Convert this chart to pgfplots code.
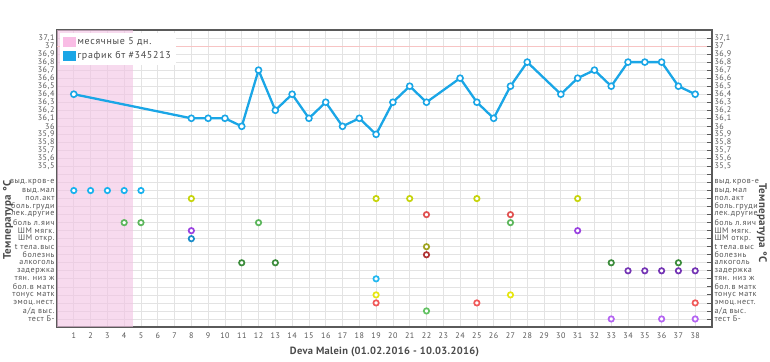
\documentclass[border=0pt]{standalone}
\usepackage{pgfplots}
\pgfplotsset{compat=1.18}
\usepackage{fontspec}
\setmainfont{PT Sans}
\newfontfamily\lsfont[LetterSpace=7]{PT Sans}
\newfontfamily\lsmfont[LetterSpace=3]{PT Sans}
\definecolor{gridc}{HTML}{E3E3E3}
\definecolor{framec}{HTML}{5A5A5A}
\definecolor{labc}{HTML}{555555}
\definecolor{titc}{HTML}{4A4A4A}
\definecolor{bandc}{HTML}{F2C4E4}
\definecolor{legpink}{HTML}{F9BDE5}
\definecolor{bluec}{HTML}{1AA6E6}
\definecolor{redline}{HTML}{F7C4C4}
\definecolor{cVydMal}{HTML}{1AB2EE}
\definecolor{cPol}{HTML}{C6D40C}
\definecolor{cBolYa}{HTML}{5CB65C}
\definecolor{cShmM}{HTML}{9A42E0}
\definecolor{cShmO}{HTML}{1A8CC8}
\definecolor{cAlk}{HTML}{3C8C3C}
\definecolor{cLek}{HTML}{E05252}
\definecolor{cTt}{HTML}{A0A422}
\definecolor{cBolez}{HTML}{B03434}
\definecolor{cZad}{HTML}{7434B4}
\definecolor{cTyan}{HTML}{22B8F0}
\definecolor{cTonus}{HTML}{E6E610}
\definecolor{cEmoc}{HTML}{F05858}
\definecolor{cAd}{HTML}{62C262}
\definecolor{cTest}{HTML}{B464F2}
\pgfplotsset{
  myy/.style={
    ymin=33.5, ymax=37.2,
    ytick={33.6,33.7,33.8,33.9,34.0,34.1,34.2,34.3,34.4,34.5,34.6,34.7,34.8,34.9,35.0,35.1,35.2,35.3,35.4,35.5,35.6,35.7,35.8,35.9,36.0,36.1,36.2,36.3,36.4,36.5,36.6,36.7,36.8,36.9,37.0,37.1},
    yticklabels={тест Б-,а/д выс.,эмоц.нест.,тонус матк,бол.в матк,тян. низ ж,задержка,алкоголь,болезнь,t тела.выс,ШМ откр.,ШМ мягк.,боль л.яич,лек.другие,боль.груди,пол.акт,выд.мал,выд.кров-е,{},{35,5},{35,6},{35,7},{35,8},{35,9},{36},{36,1},{36,2},{36,3},{36,4},{36,5},{36,6},{36,7},{36,8},{36,9},{37},{37,1}},
  },
  dot/.style={only marks, mark=*, mark size=2.7bp, forget plot,
    mark options={draw=#1, fill=white, line width=1.7bp}},
}
\begin{document}
\begin{tikzpicture}
\useasboundingbox (-57bp,-35bp) rectangle (713bp,327bp);
\begin{axis}[
  scale only axis, width=655bp, height=297bp,
  at={(0,0)}, anchor=south west,
  xmin=0, xmax=39, myy,
  xtick={1,...,38},
  /pgf/number format/assume math mode=true,
  grid=major,
  major grid style={draw=gridc, line width=0.7bp},
  major tick length=0pt,
  axis line style={draw=framec, line width=1.5bp},
  tick label style={font=\fontsize{8.1}{8.2}\selectfont\lsfont, text=labc},
  xticklabel style={yshift=-2bp},
  yticklabel style={xshift=1bp, inner ysep=0pt},
  every axis x label/.style={at={(rel axis cs:0.5,0)}, yshift=-25bp, anchor=center},
  xlabel={\fontsize{10.5}{12}\selectfont\lsmfont\bfseries\color{titc}Deva Malein (01.02.2016 - 10.03.2016)},
  every axis y label/.style={at={(rel axis cs:0,0.36)}, xshift=-49bp, rotate=90, anchor=center},
  ylabel={\fontsize{11}{12}\selectfont\lsmfont\bfseries\color{titc}Температура °C},
  legend style={at={(rel axis cs:0,1)}, xshift=3bp, yshift=-3bp, anchor=north west,
    draw=none, fill=white, font=\fontsize{10}{11}\selectfont\lsfont\color{titc},
    inner xsep=3bp, inner ysep=2.5bp, row sep=1.5bp},
  legend cell align=left,
]
\addplot[fill=bandc, draw=none, fill opacity=0.62, forget plot]
  coordinates {(0,33.5) (0,37.2) (4.5,37.2) (4.5,33.5)} -- cycle;
\addplot[redline, line width=1bp, forget plot] coordinates {(0,37) (39,37)};
\addlegendimage{legend image code/.code={\fill[legpink] (0bp,-4.5bp) rectangle (12bp,4.5bp);}}
\addlegendentry{месячные 5 дн.}
\addlegendimage{legend image code/.code={\fill[bluec] (0bp,-4.5bp) rectangle (12bp,4.5bp);}}
\addlegendentry{график бт \#345213}
\addplot[bluec, line width=2.3bp, mark=*, mark size=3bp, forget plot,
  mark options={fill=white, draw=bluec, line width=1.6bp}] coordinates {
 (1,36.4) (8,36.1) (9,36.1) (10,36.1) (11,36.0) (12,36.7) (13,36.2) (14,36.4)
 (15,36.1) (16,36.3) (17,36.0) (18,36.1) (19,35.9) (20,36.3) (21,36.5) (22,36.3)
 (24,36.6) (25,36.3) (26,36.1) (27,36.5) (28,36.8) (30,36.4) (31,36.6) (32,36.7)
 (33,36.5) (34,36.8) (35,36.8) (36,36.8) (37,36.5) (38,36.4)};
% выд.мал
\addplot[dot=cVydMal] coordinates {(1,35.2) (2,35.2) (3,35.2) (4,35.2) (5,35.2)};
% пол.акт
\addplot[dot=cPol] coordinates {(8,35.1) (19,35.1) (21,35.1) (25,35.1) (31,35.1)};
% лек.другие
\addplot[dot=cLek] coordinates {(22,34.9) (27,34.9)};
% боль л.яич
\addplot[dot=cBolYa] coordinates {(4,34.8) (5,34.8) (12,34.8) (27,34.8)};
% ШМ мягк.
\addplot[dot=cShmM] coordinates {(8,34.7) (31,34.7)};
% ШМ откр.
\addplot[dot=cShmO] coordinates {(8,34.6)};
% t тела.выс
\addplot[dot=cTt] coordinates {(22,34.5)};
% болезнь
\addplot[dot=cBolez] coordinates {(22,34.4)};
% алкоголь
\addplot[dot=cAlk] coordinates {(11,34.3) (13,34.3) (33,34.3) (37,34.3)};
% задержка
\addplot[dot=cZad] coordinates {(34,34.2) (35,34.2) (36,34.2) (37,34.2) (38,34.2)};
% тян. низ ж
\addplot[dot=cTyan] coordinates {(19,34.1)};
% тонус матк
\addplot[dot=cTonus] coordinates {(19,33.9) (27,33.9)};
% эмоц.нест.
\addplot[dot=cEmoc] coordinates {(19,33.8) (25,33.8) (38,33.8)};
% а/д выс.
\addplot[dot=cAd] coordinates {(22,33.7)};
% тест Б-
\addplot[dot=cTest] coordinates {(33,33.6) (36,33.6) (38,33.6)};
\node[font=\fontsize{14}{15}\selectfont\lsmfont\bfseries, text=titc] at (rel axis cs:0.5,1) [yshift=21bp] {График БТ (www.my-bt.ru/gr/345213)};
\node[font=\fontsize{8}{9}\selectfont\lsfont, text=labc] at (rel axis cs:0.5,1) [yshift=8.5bp] {ДЦ: 38 дн., М: 5 дн., фаза I: 36,38°C};
\end{axis}
\begin{axis}[
  scale only axis, width=655bp, height=297bp,
  at={(0,0)}, anchor=south west,
  xmin=0, xmax=39, myy,
  hide x axis,
  axis y line*=right,
  y axis line style={draw=none},
  ytick pos=right, yticklabel pos=right,
  tick align=inside,
  major tick length=5bp,
  ytick style={draw=framec, line width=0.8bp},
  tick label style={font=\fontsize{8.1}{8.2}\selectfont\lsfont, text=labc},
  yticklabel style={xshift=-1bp, inner ysep=0pt},
  every axis y label/.style={at={(rel axis cs:1,0.35)}, xshift=50bp, rotate=-90, anchor=center},
  ylabel={\fontsize{11}{12}\selectfont\lsmfont\bfseries\color{titc}Температура °C},
]
\addplot[draw=none, forget plot] coordinates {(1,36)};
\end{axis}
\end{tikzpicture}
\end{document}
